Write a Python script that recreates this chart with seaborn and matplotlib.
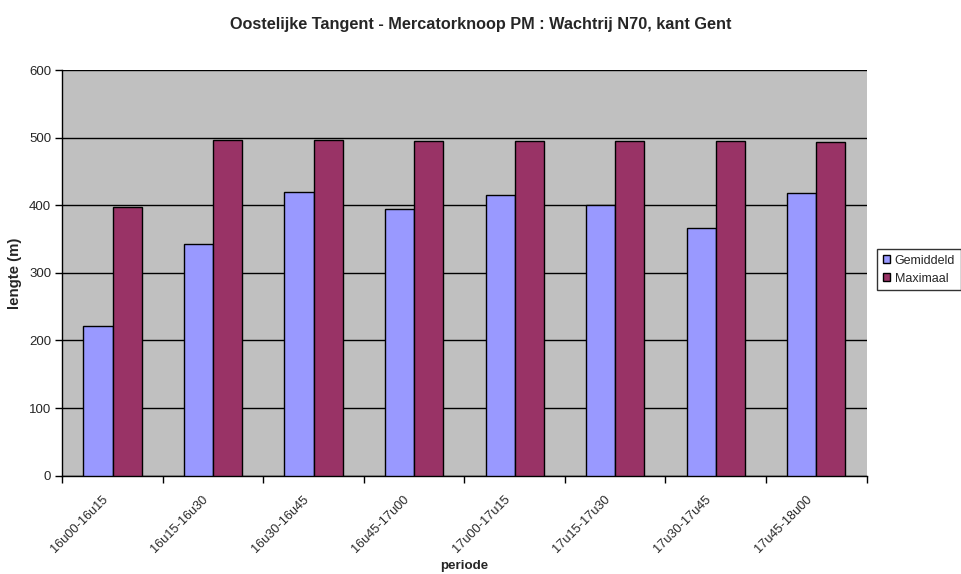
import matplotlib
matplotlib.use("Agg")
import matplotlib.pyplot as plt
import matplotlib.transforms as mtransforms
import seaborn as sns
import pandas as pd
import numpy as np

periods = ["16u00-16u15", "16u15-16u30", "16u30-16u45", "16u45-17u00",
           "17u00-17u15", "17u15-17u30", "17u30-17u45", "17u45-18u00"]
gemiddeld = [222, 343, 419, 394, 415, 401, 367, 418]
maximaal = [397, 496, 497, 495, 495, 495, 495, 494]
series_names = ["Gemiddeld", "Maximaal"]
series_colors = ["#9999FF", "#993366"]

df = pd.DataFrame({
    "periode": periods * 2,
    "lengte": gemiddeld + maximaal,
    "reeks": [series_names[0]] * len(periods) + [series_names[1]] * len(periods),
})

sns.set_style("white")
plt.rcParams["font.family"] = ["Liberation Sans", "DejaVu Sans"]

fig = plt.figure(figsize=(9.61, 5.74), dpi=100)
ax = fig.add_axes([0.0648, 0.1712, 0.8369, 0.7068])
ax.set_facecolor("#C0C0C0")

sns.barplot(data=df, x="periode", y="lengte", hue="reeks", order=periods,
            hue_order=series_names, palette=series_colors, width=0.58,
            edgecolor="black", linewidth=1.0, saturation=1, ax=ax, zorder=3)

ax.set_ylim(0, 600)
ax.set_xlim(-0.5, len(periods) - 0.5)
ax.set_yticks(np.arange(0, 601, 100))
ax.yaxis.grid(True, color="black", linewidth=1.0, zorder=1)
ax.set_axisbelow(True)

for side in ["top", "right"]:
    ax.spines[side].set_visible(False)
for side in ["left", "bottom"]:
    ax.spines[side].set_color("black")
    ax.spines[side].set_linewidth(1.0)

# category boundaries carry the tick marks, labels sit at category centres
ax.set_xticks(np.arange(-0.5, len(periods), 1.0), minor=True)
ax.tick_params(axis="x", which="minor", length=5, width=1, color="black", direction="out", bottom=True)
ax.tick_params(axis="x", which="major", length=0, labelsize=9.2, pad=0)
ax.tick_params(axis="y", which="major", length=5, width=1, color="black", direction="out", left=True,
               labelsize=9.5, pad=3)

shift = mtransforms.ScaledTranslation(-6.5 / 100, -22 / 100, fig.dpi_scale_trans)
for lbl in ax.get_xticklabels():
    lbl.set_rotation(45)
    lbl.set_ha("right")
    lbl.set_va("center")
    lbl.set_rotation_mode("anchor")
    lbl.set_transform(lbl.get_transform() + shift)

ax.set_xlabel("periode", fontsize=9.6, fontweight="bold", labelpad=0, va="center")
ax.xaxis.set_label_coords(0.5, -0.222)
ax.set_ylabel("lengte (m)", fontsize=10.8, fontweight="bold", va="center")
ax.yaxis.set_label_coords(-0.0588, 0.5)
fig.suptitle("Oostelijke Tangent - Mercatorknoop PM : Wachtrij N70, kant Gent",
             fontsize=11.7, fontweight="bold", y=0.957, va="center")

leg = ax.legend(loc="upper left", bbox_to_anchor=(1.0133, 0.559), frameon=True,
                fancybox=False, fontsize=9, handlelength=0.6, handleheight=0.6,
                handletextpad=0.35, borderpad=0.45, labelspacing=0.5, borderaxespad=0)
leg.get_frame().set_edgecolor("black")
leg.get_frame().set_linewidth(1.0)
leg.get_frame().set_facecolor("white")

fig.savefig("out.png", dpi=100, facecolor="white")
